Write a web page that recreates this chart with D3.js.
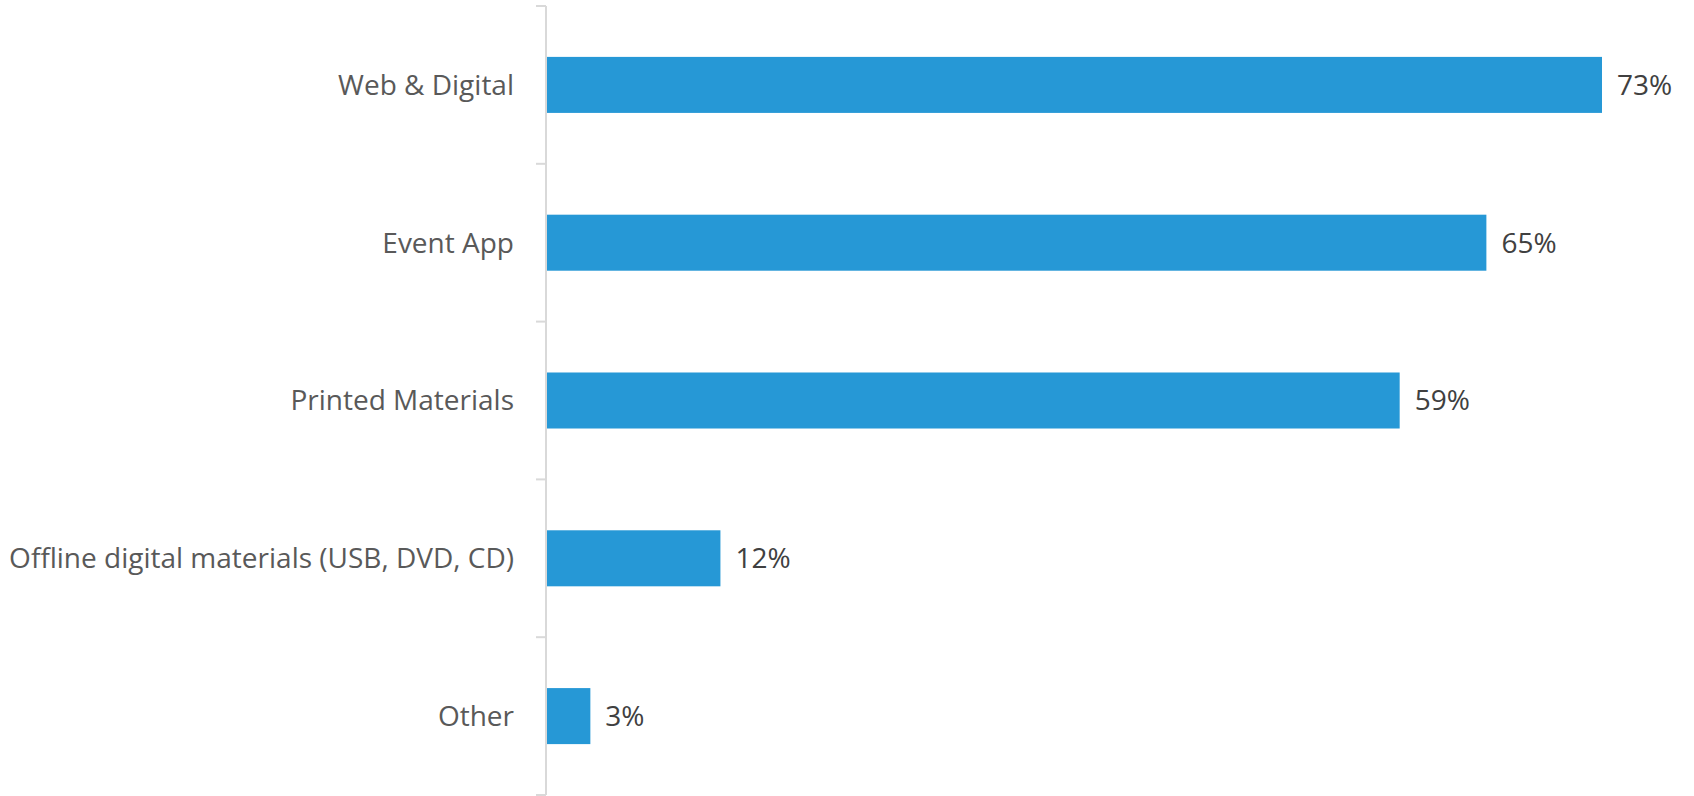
<!DOCTYPE html>
<html>
  <head>
    <script src='https://d3js.org/d3.v7.min.js'></script>
    <style type='text/css'>
      body, html { margin: 0; padding: 0; background: #fff; }
      svg { display: block; }
    </style>
  </head>
  <body>
    <svg width='1694' height='796' font-family='Open Sans, sans-serif'></svg>
    <script type='text/javascript'>
      var categories = ['Web & Digital', 'Event App', 'Printed Materials', 'Offline digital materials (USB, DVD, CD)', 'Other']
      var values = [73, 65, 59, 12, 3]

      var data = categories.map(function(c, i) { return {name: c, value: values[i]} })

      var svg = d3.select('svg')
      var axisX = 546, axisTop = 6, axisBottom = 795

      var y = d3.scaleBand()
        .domain(categories)
        .range([axisTop, axisBottom])
        .padding(0)

      var x = d3.scaleLinear()
        .domain([0, 73])
        .range([axisX + 1, 1602])

      var barH = y.bandwidth() * 0.355

      // axis line + ticks between categories
      var axis = svg.append('g').attr('stroke', '#d9d9d9').attr('stroke-width', 2)
      axis.append('line')
        .attr('x1', axisX).attr('x2', axisX)
        .attr('y1', axisTop).attr('y2', axisBottom)
      var edges = categories.map(function(c) { return y(c) }).concat([axisBottom])
      axis.selectAll('.tick').data(edges).enter().append('line')
        .attr('x1', axisX - 10).attr('x2', axisX)
        .attr('y1', function(d) { return d }).attr('y2', function(d) { return d })

      svg.selectAll('.bar').data(data).enter().append('rect')
        .attr('class', 'bar')
        .attr('x', x(0))
        .attr('y', function(d) { return y(d.name) + (y.bandwidth() - barH) / 2 })
        .attr('width', function(d) { return x(d.value) - x(0) })
        .attr('height', barH)
        .attr('fill', '#2698d6')

      svg.selectAll('.cat').data(data).enter().append('text')
        .attr('x', 514)
        .attr('y', function(d) { return y(d.name) + y.bandwidth() / 2 })
        .attr('dy', '0.35em')
        .attr('text-anchor', 'end')
        .attr('font-size', 28)
        .attr('fill', '#595959')
        .text(function(d) { return d.name })

      svg.selectAll('.val').data(data).enter().append('text')
        .attr('x', function(d) { return x(d.value) + 15 })
        .attr('y', function(d) { return y(d.name) + y.bandwidth() / 2 })
        .attr('dy', '0.35em')
        .attr('font-size', 28)
        .attr('fill', '#404040')
        .text(function(d) { return d.value + '%' })
    </script>
  </body>
</html>
